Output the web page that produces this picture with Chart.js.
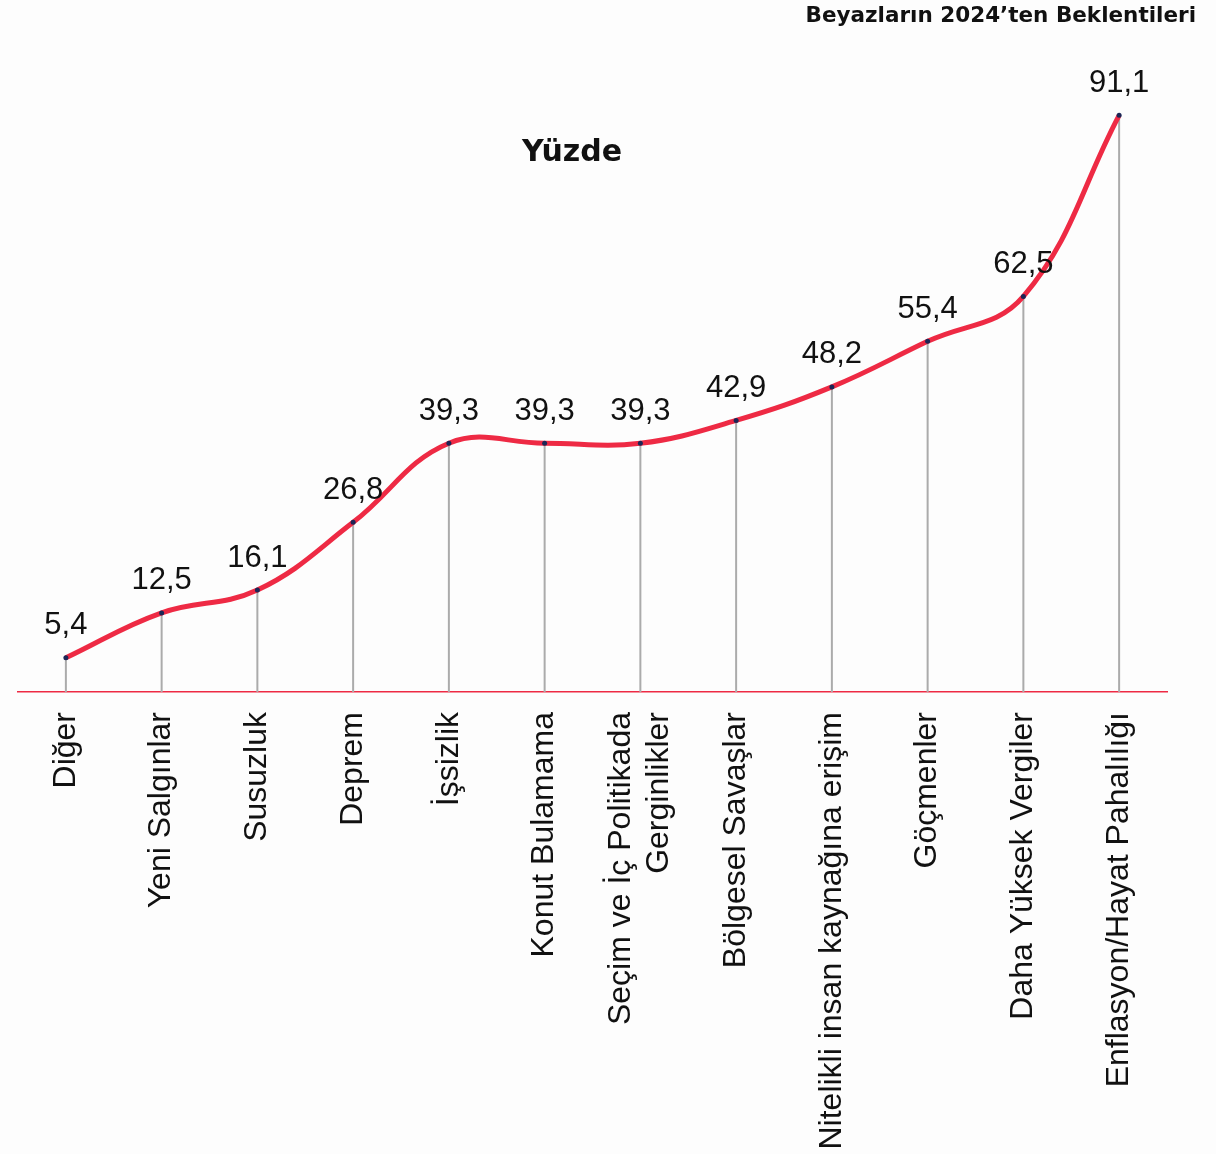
<!DOCTYPE html>
<html lang="tr">
<head>
<meta charset="utf-8">
<title>Beyazların 2024'ten Beklentileri</title>
<script src="https://cdn.jsdelivr.net/npm/chart.js@4"></script>
<style>
  html, body { margin: 0; padding: 0; background: #fdfdfd; }
  #chartBox { width: 1216px; height: 1154px; }
</style>
</head>
<body>
<div id="chartBox"><canvas id="lineChart" width="1216" height="1154"></canvas></div>
<script>
'use strict';
// данные графика
const categories = [
  "Diğer", "Yeni Salgınlar", "Susuzluk", "Deprem", "İşsizlik", "Konut Bulamama",
  ["Seçim ve İç Politikada", "Gerginlikler"], "Bölgesel Savaşlar",
  "Nitelikli insan kaynağına erişim", "Göçmenler", "Daha Yüksek Vergiler",
  "Enflasyon/Hayat Pahalılığı"
];
const percentValues = [5.4, 12.5, 16.1, 26.8, 39.3, 39.3, 39.3, 42.9, 48.2, 55.4, 62.5, 91.1];
const chartTitle = "Beyazların 2024’ten Beklentileri";
const unitLabel = "Yüzde";

const lineRed = '#ee2a44';
const textFont = '"Liberation Sans", Arial, sans-serif';
const headFont = '"DejaVu Sans", Inter, sans-serif';

// вертикальные линии от точки до оси + подписи значений + заголовки
const decorPlugin = {
  id: 'decor',
  beforeDraw(chart) {
    // двухстрочные подписи центрируем относительно деления
    const items = chart.scales.x.getLabelItems();
    items.forEach(function(item) {
      const lbl = item.label;
      if (Array.isArray(lbl) && lbl.length > 1 && !item._centered) {
        item.options.translation[0] -= (lbl.length - 1) * item.font.lineHeight / 2;
        item._centered = true;
      }
    });
  },
  beforeDatasetsDraw(chart) {
    const ctx = chart.ctx;
    const meta = chart.getDatasetMeta(0);
    const bottom = chart.chartArea.bottom;
    ctx.save();
    ctx.strokeStyle = '#ababab';
    ctx.lineWidth = 2;
    meta.data.forEach(function(pt) {
      ctx.beginPath();
      ctx.moveTo(pt.x, pt.y);
      ctx.lineTo(pt.x, bottom);
      ctx.stroke();
    });
    ctx.restore();
  },
  afterDraw(chart) {
    const ctx = chart.ctx;
    const meta = chart.getDatasetMeta(0);
    ctx.save();
    ctx.fillStyle = '#111';
    ctx.font = '31px ' + textFont;
    ctx.textAlign = 'center';
    ctx.textBaseline = 'middle';
    meta.data.forEach(function(pt, i) {
      ctx.fillText(percentValues[i].toFixed(1).replace('.', ','), pt.x, pt.y - 32);
    });

    ctx.font = 'bold 30px ' + headFont;
    ctx.fillText(unitLabel, 572, 153);

    ctx.font = 'bold 21.5px ' + headFont;
    ctx.textAlign = 'right';
    ctx.fillText(chartTitle, 1196, 16);
    ctx.restore();
  }
};

const ctxL = document.getElementById('lineChart').getContext('2d');
const myLineChart = new Chart(ctxL, {
  type: 'line',
  data: {
    labels: categories,
    datasets: [{
      label: unitLabel,
      data: percentValues,
      borderColor: lineRed,
      borderWidth: 5,
      tension: 0.4,
      fill: false,
      pointRadius: 2.5,
      pointBackgroundColor: '#1c2656',
      pointBorderWidth: 0,
      clip: false
    }]
  },
  options: {
    responsive: false,
    animation: false,
    devicePixelRatio: 1,
    layout: { padding: { left: 18, right: 49, top: 59, bottom: 0 } },
    plugins: {
      legend: { display: false },
      tooltip: { enabled: false }
    },
    scales: {
      x: {
        offset: true,
        grid: { display: false },
        border: { color: lineRed, width: 1.5 },
        afterFit: function(scale) { scale.height = 462; },
        ticks: {
          autoSkip: false,
          minRotation: 90,
          maxRotation: 90,
          padding: 12,
          color: '#111',
          font: { family: textFont, size: 32 }
        }
      },
      y: {
        display: false,
        min: 0,
        max: 100
      }
    }
  },
  plugins: [decorPlugin]
});
</script>
</body>
</html>
